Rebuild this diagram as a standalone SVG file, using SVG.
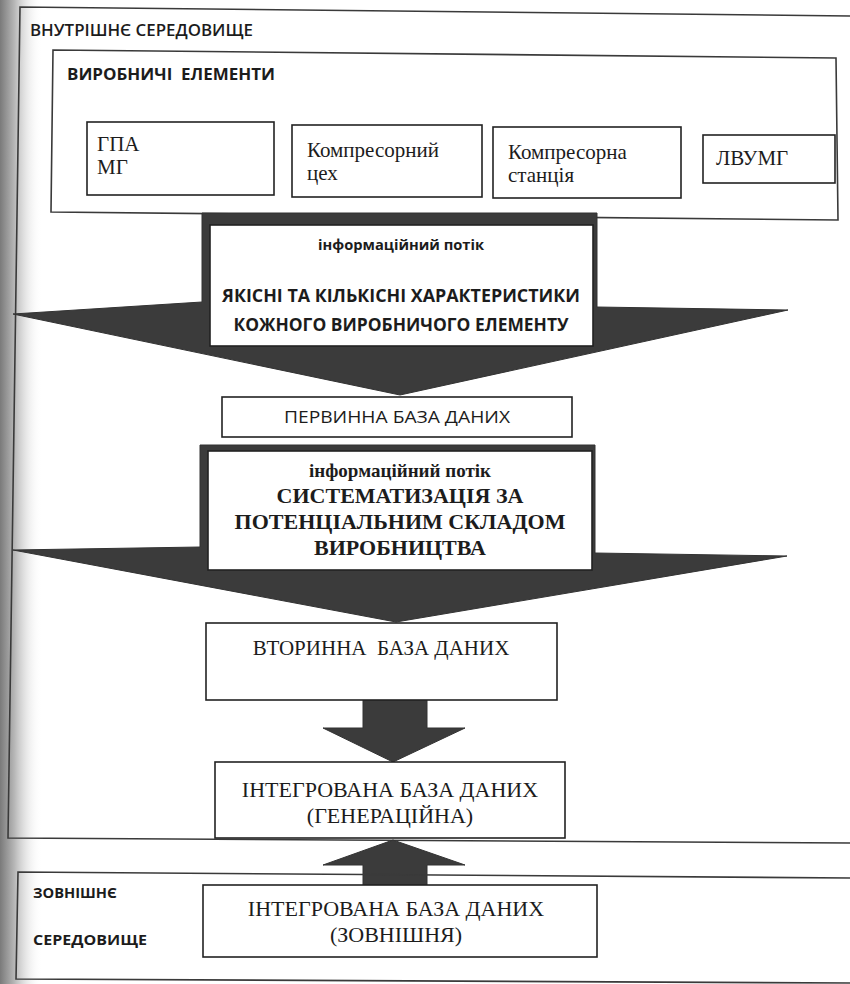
<svg xmlns="http://www.w3.org/2000/svg" width="850" height="984" viewBox="0 0 850 984">
<defs>
<linearGradient id="bind" x1="0" y1="0" x2="1" y2="0">
<stop offset="0" stop-color="#7a7a7a"/>
<stop offset="0.35" stop-color="#b8b8b8"/>
<stop offset="1" stop-color="#ffffff" stop-opacity="0"/>
</linearGradient>
<style>
.frame{fill:none;stroke:#3a3a3a;stroke-width:1.6}
.box{fill:#fff;stroke:#222;stroke-width:1.6}
.arrow{fill:#3b3b3b;stroke:#333;stroke-width:1}
.sans{font-family:"Open Sans","Noto Sans","DejaVu Sans",sans-serif;fill:#1c1c1c}
.serif{font-family:"Liberation Serif","Times New Roman",serif;fill:#1c1c1c}
.c{text-anchor:middle}
.pre{white-space:pre}
</style>
</defs>
<rect width="850" height="984" fill="#fff"/>
<rect x="0" y="0" width="42" height="984" fill="url(#bind)"/>

<g id="internal-environment">
<path class="frame" d="M850,16 L20,7 L8,838 L850,843"/>
<text class="sans pre" x="30" y="36" font-size="16" font-weight="600" textLength="223" lengthAdjust="spacingAndGlyphs">ВНУТРІШНЄ СЕРЕДОВИЩЕ</text>
</g>

<g id="production-elements">
<polygon class="frame" points="53,50 836,58 838,220 51,212"/>
<text class="sans pre" x="67" y="80" font-size="16" font-weight="700" textLength="208" lengthAdjust="spacingAndGlyphs">ВИРОБНИЧІ  ЕЛЕМЕНТИ</text>
</g>

<g id="connectors">
<polygon class="arrow" points="202,213 597,213 597,307 788,310 400,395 13,314 202,302"/>
<polygon class="arrow" points="200,445 595,445 595,553 787,556 396,622 13,550 200,547"/>
<polygon class="arrow" points="363,700 427,700 427,728 465,728 393,762 323,728 363,728"/>
<polygon class="arrow" points="393,840 465,865 427,865 427,885 363,885 363,865 323,865"/>
</g>

<g id="gpa-mg">
<rect class="box" x="87" y="122" width="187" height="73"/>
<text class="serif" x="97" y="151" font-size="21">ГПА</text>
<text class="serif" x="97" y="174" font-size="21">МГ</text>
</g>

<g id="compressor-shop">
<rect class="box" x="292" y="125" width="190" height="72"/>
<text class="serif" x="307" y="157" font-size="21">Компресорний</text>
<text class="serif" x="307" y="180" font-size="21">цех</text>
</g>

<g id="compressor-station">
<rect class="box" x="493" y="127" width="188" height="71"/>
<text class="serif" x="508" y="159" font-size="21">Компресорна</text>
<text class="serif" x="508" y="182" font-size="21">станція</text>
</g>

<g id="lvumg">
<rect class="box" x="703" y="135" width="132" height="48"/>
<text class="serif" x="716" y="165" font-size="21">ЛВУМГ</text>
</g>

<g id="flow-1">
<rect class="box" x="210" y="225" width="383" height="121"/>
<text class="sans c" x="401" y="250" font-size="14" font-weight="700" textLength="166" lengthAdjust="spacingAndGlyphs">інформаційний потік</text>
<text class="sans c" x="401" y="302" font-size="17" font-weight="700" textLength="358" lengthAdjust="spacingAndGlyphs">ЯКІСНІ ТА КІЛЬКІСНІ ХАРАКТЕРИСТИКИ</text>
<text class="sans c" x="401" y="331" font-size="17" font-weight="700" textLength="335" lengthAdjust="spacingAndGlyphs">КОЖНОГО ВИРОБНИЧОГО ЕЛЕМЕНТУ</text>
</g>

<g id="primary-db">
<rect class="box" x="222" y="397" width="350" height="40"/>
<text class="sans c" x="397" y="423" font-size="16" textLength="226" lengthAdjust="spacingAndGlyphs">ПЕРВИННА БАЗА ДАНИХ</text>
</g>

<g id="flow-2">
<rect class="box" x="208" y="451" width="384" height="119"/>
<text class="serif c" x="400" y="477" font-size="19" font-weight="700">інформаційний потік</text>
<text class="serif c" x="400" y="503" font-size="22" font-weight="700">СИСТЕМАТИЗАЦІЯ ЗА</text>
<text class="serif c" x="400" y="529" font-size="22" font-weight="700">ПОТЕНЦІАЛЬНИМ СКЛАДОМ</text>
<text class="serif c" x="400" y="555" font-size="22" font-weight="700">ВИРОБНИЦТВА</text>
</g>

<g id="secondary-db">
<rect class="box" x="206" y="623" width="351" height="77"/>
<text class="serif c pre" x="381" y="655" font-size="21">ВТОРИННА  БАЗА ДАНИХ</text>
</g>

<g id="integrated-db-generation">
<rect class="box" x="215" y="762" width="350" height="76"/>
<text class="serif c" x="390" y="797" font-size="22">ІНТЕГРОВАНА БАЗА ДАНИХ</text>
<text class="serif c" x="390" y="823" font-size="22">(ГЕНЕРАЦІЙНА)</text>
</g>

<g id="external-environment">
<path class="frame" d="M850,878 L18,872 L16,979 L850,983"/>
<text class="sans" x="33" y="898" font-size="14" font-weight="700" textLength="84" lengthAdjust="spacingAndGlyphs">ЗОВНІШНЄ</text>
<text class="sans" x="33" y="945" font-size="14" font-weight="700" textLength="114" lengthAdjust="spacingAndGlyphs">СЕРЕДОВИЩЕ</text>
</g>

<g id="integrated-db-external">
<rect class="box" x="203" y="885" width="394" height="72"/>
<text class="serif c" x="396" y="916" font-size="22">ІНТЕГРОВАНА БАЗА ДАНИХ</text>
<text class="serif c" x="396" y="942" font-size="22">(ЗОВНІШНЯ)</text>
</g>
</svg>
